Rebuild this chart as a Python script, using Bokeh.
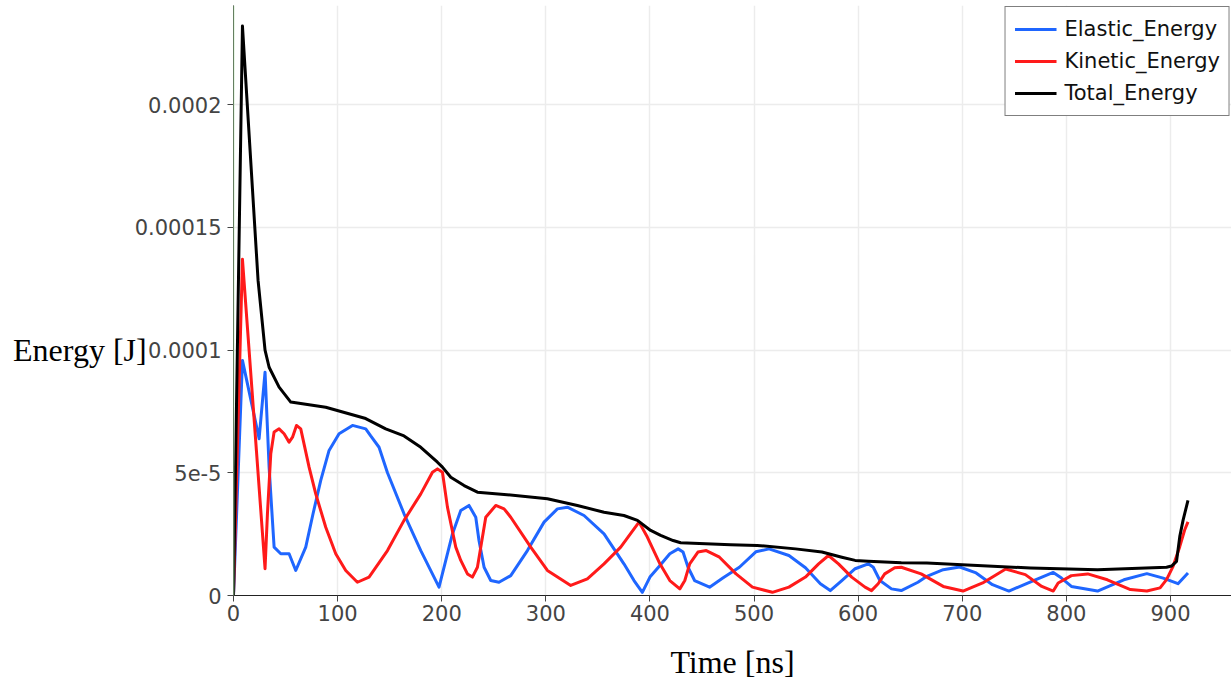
from bokeh.plotting import figure
from bokeh.models import (FixedTicker, CustomJSTickFormatter, Legend, LegendItem, Span)
from bokeh.embed import file_html
from bokeh.resources import INLINE

# ---------------- data (energy values in units of 1e-5 J) ----------------
ENERGY_UNIT = 1e-5

elastic_t = [0, 8.6, 24.6, 30.3, 34.2, 39, 45.4, 53.4, 59.8, 69.4, 76.4, 83.8, 91.8, 101.4,
             114.3, 127, 131.8, 139.8, 147.9, 163.8, 179.9, 197.4, 203.9, 210.3, 218.3,
             226.2, 232.7, 235.8, 240.7, 247.1, 255, 266.3, 282.3, 298.3, 311.1, 320.7,
             336.7, 355.9, 375, 384.7, 392.7, 400, 409.6, 419.1, 427.1, 431.8, 436.6,
             442.9, 457.3, 470, 485.9, 501.7, 514.4, 533.5, 549.4, 563.7, 573.2, 584.3,
             597.1, 609.7, 614.5, 620.9, 632, 641.4, 657.4, 666, 681.7, 697.5, 713.3, 729,
             744.8, 766.8, 787.4, 795.3, 804.8, 829.9, 855.2, 877.3, 893, 907.2, 916.8]
elastic_e = [0, 9.58, 6.39, 9.1, 5.23, 1.97, 1.70, 1.70, 1.02, 1.97, 3.33, 4.69, 5.91, 6.59,
             6.93, 6.79, 6.5, 6.04, 5.0, 3.33, 1.83, 0.34, 1.43, 2.51, 3.46,
             3.67, 3.19, 2.24, 1.15, 0.61, 0.54, 0.81, 1.83, 2.99, 3.53, 3.6,
             3.26, 2.51, 1.29, 0.61, 0.13, 0.75, 1.22, 1.70, 1.90, 1.77, 1.15,
             0.61, 0.34, 0.71, 1.15, 1.78, 1.90, 1.63, 1.13, 0.48, 0.20, 0.61,
             1.09, 1.29, 1.15, 0.61, 0.27, 0.2, 0.54, 0.78, 1.05, 1.16, 0.92, 0.44,
             0.18, 0.58, 0.94, 0.71, 0.37, 0.18, 0.64, 0.89, 0.71, 0.48, 0.92]

kinetic_t = [0, 8.6, 30.3, 32.6, 35.8, 39, 43.8, 48.6, 53.4, 56.7, 60.5, 64.6, 72.6, 79,
             88.6, 98.2, 107.8, 119, 130.2, 147.9, 163.8, 179.9, 191.1, 195.9, 200.7, 205.5,
             213.5, 218.3, 224.7, 229.5, 234.3, 237.5, 242.3, 251.9, 259.9, 266.3, 285.5,
             301.5, 323.9, 339.9, 355.9, 371.9, 389.5, 397.5, 409.6, 419.1, 428.7, 433.5,
             438.2, 446.1, 454.1, 466.8, 482.7, 498.5, 517.6, 533.5, 549.4, 562, 571.5,
             581.1, 593.8, 606.6, 612.8, 619.2, 625.5, 635.1, 641.4, 660.5, 681.7, 700.7,
             719.6, 741.7, 760.6, 776.4, 787.4, 792.1, 804.8, 820.5, 839.4, 861.5, 877.3,
             890, 896.2, 902.5, 908.9, 913.6, 916.8]
kinetic_e = [0, 13.7, 1.09, 3.33, 5.77, 6.66, 6.79, 6.59, 6.25, 6.45, 6.93, 6.79, 5.23, 4.14,
             2.78, 1.70, 1.02, 0.54, 0.75, 1.83, 3.06, 4.14, 5.02, 5.16, 5.02, 3.6,
             1.97, 1.43, 0.88, 0.75, 1.15, 1.97, 3.19, 3.67, 3.53, 3.19, 1.97,
             1.02, 0.41, 0.68, 1.29, 1.97, 2.99, 2.38, 1.29, 0.61, 0.27, 0.61,
             1.29, 1.77, 1.83, 1.56, 0.88, 0.34, 0.13, 0.34, 0.75, 1.29, 1.63,
             1.29, 0.75, 0.34, 0.2, 0.48, 0.88, 1.13, 1.15, 0.88, 0.37, 0.18,
             0.51, 1.08, 0.85, 0.37, 0.18, 0.51, 0.81, 0.88, 0.64, 0.24, 0.18,
             0.31, 0.65, 1.19, 1.99, 2.67, 3.0]

total_t = [0, 8.6, 23.6, 30.3, 34.2, 43.8, 55, 88.6, 127, 146.2, 163.8, 179.9, 195.9, 200.7,
           208.7, 221.5, 234.3, 259.9, 301.5, 330.3, 355.9, 375, 388, 400.7, 410.3, 422.3,
           429.5, 477.5, 503, 539.8, 565.2, 584.3, 597.1, 609.7, 641.4, 666, 700, 765.6,
           829.9, 896.2, 901, 905.8, 908.9, 912.1, 916.8]
total_e = [0, 23.2, 12.84, 10.0, 9.3, 8.49, 7.88, 7.67, 7.21, 6.79, 6.5, 6.04, 5.43, 5.23,
           4.82, 4.48, 4.21, 4.12, 3.94, 3.67, 3.39, 3.26, 3.06, 2.65, 2.45, 2.24,
           2.15, 2.07, 2.04, 1.90, 1.77, 1.56, 1.43, 1.40, 1.33, 1.32, 1.25, 1.12,
           1.05, 1.15, 1.2, 1.39, 2.4, 3.07, 3.88]

series_names = ["Elastic_Energy", "Kinetic_Energy", "Total_Energy"]
series_colors = ["#1f66ff", "#ff1a1a", "#000000"]

x_ticks = [0, 100, 200, 300, 400, 500, 600, 700, 800, 900]
y_ticks = [0, 5e-5, 1e-4, 1.5e-4, 2e-4]
y_tick_labels = ["0", "5e-5", "0.0001", "0.00015", "0.0002"]

x_label = "Time [ns]"
y_label = "Energy [J]"
current_time = 0.0

# ---------------- figure ----------------
p = figure(width=1231, height=686, x_range=(0, 958.6), y_range=(0, 2.404e-4),
           output_backend="svg", toolbar_location=None,
           min_border_left=233, min_border_right=0, min_border_top=5, min_border_bottom=91)
p.outline_line_color = None
p.background_fill_color = "white"
p.border_fill_color = "white"

TICK_FONT = "DejaVu Sans"
for ax in (p.xaxis[0], p.yaxis[0]):
    ax.axis_line_color = "#222222"
    ax.axis_line_width = 1
    ax.major_tick_line_color = "#444444"
    ax.major_tick_out = 6
    ax.major_tick_in = 0
    ax.minor_tick_line_color = None
    ax.major_label_text_font = TICK_FONT
    ax.major_label_text_font_size = "21px"
    ax.major_label_text_color = "#444444"

p.xaxis.ticker = FixedTicker(ticks=x_ticks)
p.yaxis.ticker = FixedTicker(ticks=y_ticks)
p.xaxis.major_label_standoff = 3
p.yaxis.major_label_standoff = 6
p.yaxis.formatter = CustomJSTickFormatter(
    args=dict(tvals=y_ticks, tlabels=y_tick_labels),
    code="""
    for (let i = 0; i < tvals.length; i++) {
        if (Math.abs(tvals[i] - tick) < 1e-12) return tlabels[i];
    }
    return '';
    """)

for ax in (p.xaxis[0], p.yaxis[0]):
    ax.axis_label_text_font = "Liberation Serif"
    ax.axis_label_text_font_size = "32px"
    ax.axis_label_text_font_style = "normal"
    ax.axis_label_text_color = "#000000"
p.xaxis.axis_label = x_label
p.xaxis.axis_label_standoff = 20
# horizontal y label, pushed down (blank leading lines) to sit at the 1e-4 level as in the source
p.yaxis.axis_label = "\n\n" + y_label
p.yaxis.axis_label_text_line_height = 1.38
p.yaxis.axis_label_orientation = "horizontal"
p.yaxis.axis_label_standoff = -15

p.xgrid.ticker = FixedTicker(ticks=x_ticks)
p.ygrid.ticker = FixedTicker(ticks=y_ticks)
p.xgrid.grid_line_color = "#ececec"
p.ygrid.grid_line_color = "#ececec"
p.xgrid.grid_line_width = 1.5
p.ygrid.grid_line_width = 1.5

# current-time marker
p.add_layout(Span(location=current_time, dimension="height",
                  line_color="#a8dca0", line_width=1.5))

# ---------------- lines ----------------
renderers = []
data_pairs = [(elastic_t, elastic_e), (kinetic_t, kinetic_e), (total_t, total_e)]
for (ts, es), color in zip(data_pairs, series_colors):
    r = p.line(ts, [e * ENERGY_UNIT for e in es], line_color=color, line_width=3,
               line_join="round")
    renderers.append(r)

legend = Legend(items=[LegendItem(label=n, renderers=[r]) for n, r in zip(series_names, renderers)],
                location="top_right")
legend.margin = 1
legend.padding = 9
legend.spacing = 6
legend.glyph_width = 42
legend.glyph_height = 26
legend.label_height = 26
legend.label_standoff = 8
legend.label_text_font = TICK_FONT
legend.label_text_font_size = "21px"
legend.label_text_color = "#111111"
legend.border_line_color = "#000000"
legend.border_line_width = 1
legend.background_fill_color = "white"
legend.background_fill_alpha = 1.0
p.add_layout(legend)

open("out.html", "w").write(file_html(p, INLINE))
